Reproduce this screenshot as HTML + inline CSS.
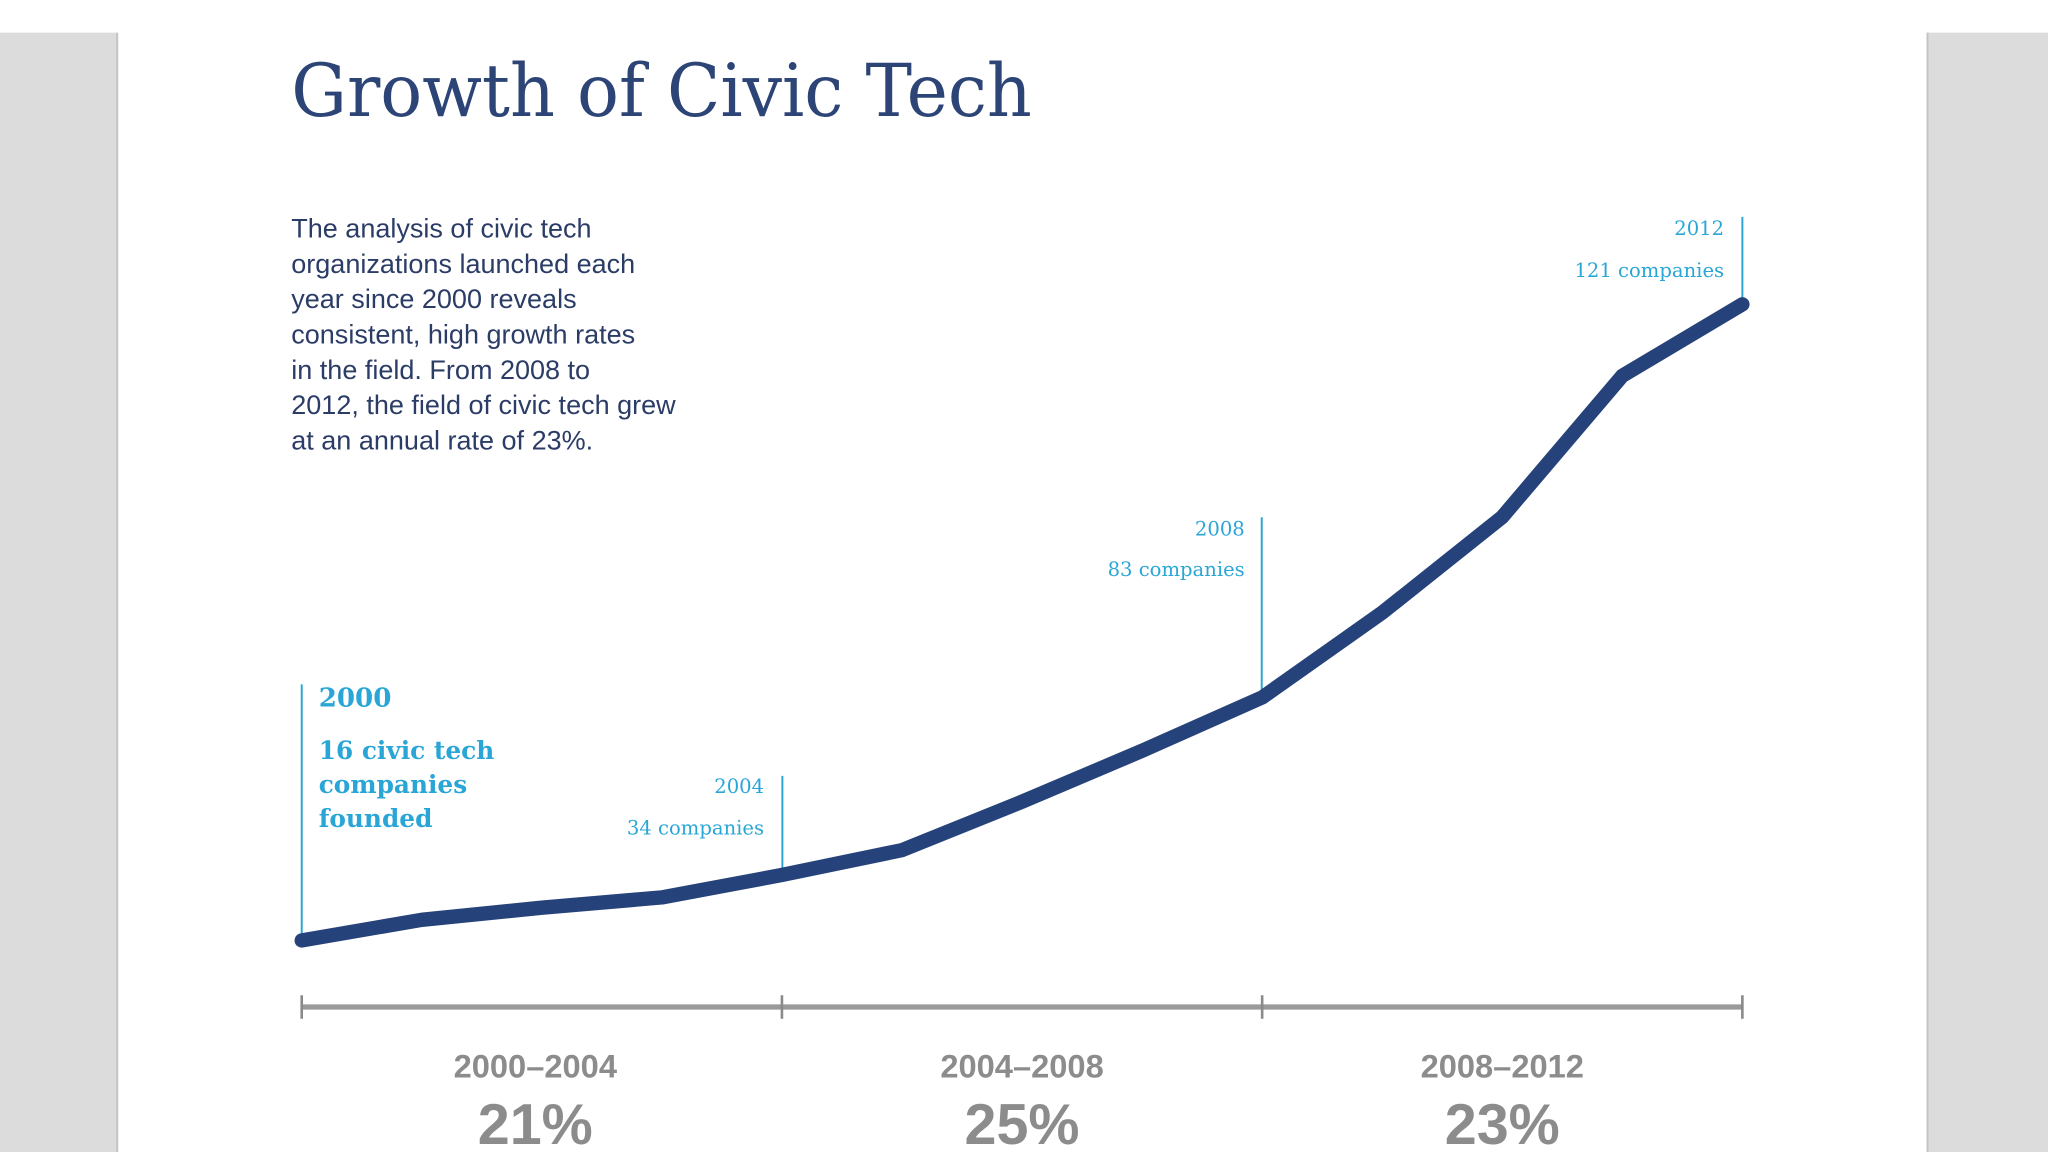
<!DOCTYPE html>
<html><head><meta charset="utf-8"><style>
html,body{margin:0;padding:0;background:#fff;}
svg{display:block;}
</style></head><body>
<svg width="2048" height="1152" viewBox="0 0 1568 882" xmlns="http://www.w3.org/2000/svg">
  <rect x="0" y="0" width="1568" height="882" fill="#fff"/>
  <rect x="0" y="25" width="90" height="857" fill="#dcdcdc"/>
  <rect x="89" y="25" width="1.5" height="857" fill="#c4c4c4"/>
  <rect x="1475" y="25" width="93" height="857" fill="#dcdcdc"/>
  <rect x="1475" y="25" width="1.5" height="857" fill="#c4c4c4"/>

  <text x="223" y="89" font-family="'DejaVu Serif','Liberation Serif',serif" font-size="56" fill="#2d4477" textLength="567" lengthAdjust="spacingAndGlyphs">Growth of Civic Tech</text>

  <g font-family="'Liberation Sans',sans-serif" font-size="20.7" fill="#2b3c66">
    <text x="223" y="182">The analysis of civic tech</text>
    <text x="223" y="209">organizations launched each</text>
    <text x="223" y="236">year since 2000 reveals</text>
    <text x="223" y="263">consistent, high growth rates</text>
    <text x="223" y="290">in the field. From 2008 to</text>
    <text x="223" y="317">2012, the field of civic tech grew</text>
    <text x="223" y="344">at an annual rate of 23%.</text>
  </g>

  <g id="annotations" fill="#2aa6d6" stroke="none">
    <line x1="231" y1="524" x2="231" y2="715" stroke="#2aa6d6" stroke-width="1.5"/>
    <text x="244" y="541" font-family="'DejaVu Serif',serif" font-weight="bold" font-size="20">2000</text>
    <g font-family="'DejaVu Serif',serif" font-weight="bold" font-size="19">
      <text x="244" y="581">16 civic tech</text>
      <text x="244" y="607">companies</text>
      <text x="244" y="633">founded</text>
    </g>
    <line x1="599" y1="594" x2="599" y2="665" stroke="#2aa6d6" stroke-width="1.5"/>
    <text x="585" y="607" text-anchor="end" font-family="'DejaVu Serif',serif" font-size="15">2004</text>
    <text x="585" y="639" text-anchor="end" font-family="'DejaVu Serif',serif" font-size="15">34 companies</text>
    <line x1="966" y1="396" x2="966" y2="528" stroke="#2aa6d6" stroke-width="1.5"/>
    <text x="953" y="410" text-anchor="end" font-family="'DejaVu Serif',serif" font-size="15">2008</text>
    <text x="953" y="441" text-anchor="end" font-family="'DejaVu Serif',serif" font-size="15">83 companies</text>
    <line x1="1334" y1="166" x2="1334" y2="228" stroke="#2aa6d6" stroke-width="1.5"/>
    <text x="1320" y="180" text-anchor="end" font-family="'DejaVu Serif',serif" font-size="15">2012</text>
    <text x="1320" y="212" text-anchor="end" font-family="'DejaVu Serif',serif" font-size="15">121 companies</text>
  </g>

  <g id="plot"></g>
  <g id="axis"></g>
</svg>
<script>
const years = [2000,2001,2002,2003,2004,2005,2006,2007,2008,2009,2010,2011,2012];
const values = [16,19.4,21.4,23.1,26.8,30.9,38.9,47.3,56.1,70.1,85.9,109.2,121];
const periodLabels = ["2000\u20132004","2004\u20132008","2008\u20132012"];
const periodRates = ["21%","25%","23%"];
const tickYears = [2000,2004,2008,2012];

const NS = "http://www.w3.org/2000/svg";
function xScale(yr){ return 231 + (yr-2000)*(1334-231)/12; }
function yScale(v){ return 720 - (v-16)*(720-233)/(121-16); }

const plot = document.getElementById('plot');
const path = document.createElementNS(NS,'path');
path.setAttribute('d', years.map((yr,i)=>(i?'L':'M')+xScale(yr)+' '+yScale(values[i])).join(' '));
path.setAttribute('fill','none');
path.setAttribute('stroke','#25427a');
path.setAttribute('stroke-width','11');
path.setAttribute('stroke-linecap','round');
path.setAttribute('stroke-linejoin','round');


plot.appendChild(path);

const axis = document.getElementById('axis');
const al = document.createElementNS(NS,'line');
al.setAttribute('x1', xScale(tickYears[0])); al.setAttribute('x2', xScale(tickYears[tickYears.length-1]));
al.setAttribute('y1',771); al.setAttribute('y2',771);
al.setAttribute('stroke','#9a9a9a'); al.setAttribute('stroke-width','4');


axis.appendChild(al);
tickYears.forEach(yr=>{
  const t = document.createElementNS(NS,'line');
  t.setAttribute('x1', xScale(yr)); t.setAttribute('x2', xScale(yr));
  t.setAttribute('y1',762); t.setAttribute('y2',780);
  t.setAttribute('stroke','#8a8a8a'); t.setAttribute('stroke-width','2');
  
  
  axis.appendChild(t);
});
periodLabels.forEach((lab,i)=>{
  const cx = (xScale(tickYears[i]) + xScale(tickYears[i+1]))/2 - (i===0?5:0);
  const t = document.createElementNS(NS,'text');
  t.setAttribute('x', cx); t.setAttribute('y', 825);
  t.setAttribute('text-anchor','middle');
  t.setAttribute('font-family',"'Liberation Sans',sans-serif");
  t.setAttribute('font-weight','bold'); t.setAttribute('font-size','25');
  t.setAttribute('fill','#8c8c8c');
  t.textContent = lab;
  
  
  axis.appendChild(t);
  const r = document.createElementNS(NS,'text');
  r.setAttribute('x', cx); r.setAttribute('y', 876);
  r.setAttribute('text-anchor','middle');
  r.setAttribute('font-family',"'Liberation Sans',sans-serif");
  r.setAttribute('font-weight','bold'); r.setAttribute('font-size','44');
  r.setAttribute('fill','#8c8c8c');
  r.textContent = periodRates[i];
  
  
  axis.appendChild(r);
});
</script>
</body></html>
